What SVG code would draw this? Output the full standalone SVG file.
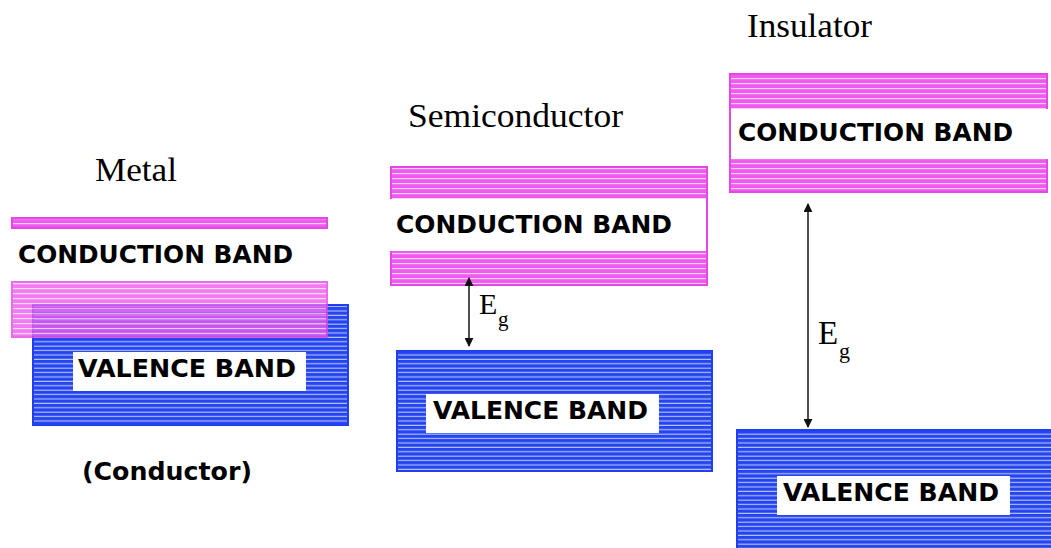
<svg xmlns="http://www.w3.org/2000/svg" width="1051" height="548" viewBox="0 0 1051 548">
<defs>
<pattern id="pinkStripe" patternUnits="userSpaceOnUse" width="8" height="5">
<rect width="8" height="5" fill="#ee5bee"/>
<rect y="3" width="8" height="1.2" fill="#fbd0fb"/>
</pattern>
<pattern id="blueStripe" patternUnits="userSpaceOnUse" width="8" height="4.4">
<rect width="8" height="4.4" fill="#2546ee"/>
<rect y="2.4" width="8" height="1.1" fill="#b8c4ff"/>
</pattern>
<marker id="arr" viewBox="0 0 10 10" refX="9" refY="5" markerWidth="9" markerHeight="9" markerUnits="userSpaceOnUse" orient="auto-start-reverse">
<path d="M0,0 L10,5 L0,10 z" fill="#111"/>
</marker>
<style>
.pink{fill:url(#pinkStripe);stroke:#e448e4;stroke-width:2}
.blue{fill:url(#blueStripe);stroke:#1f3ff0;stroke-width:2}
.band{font-family:"DejaVu Sans",Verdana,sans-serif;font-weight:bold;font-size:24.5px;fill:#000}
.title{font-family:"Liberation Serif","Times New Roman",serif;font-size:34px;fill:#000}
.eg{font-family:"Liberation Serif","Times New Roman",serif;fill:#000}
.conn{stroke:#222;stroke-width:1.6;fill:none}
</style>
</defs>
<rect width="1051" height="548" fill="#fff"/>

<g id="metal">
<text class="title" x="95" y="181" textLength="82" lengthAdjust="spacingAndGlyphs">Metal</text>
<rect class="pink" x="12" y="218" width="315" height="10"/>
<text class="band" x="18" y="263" textLength="275" lengthAdjust="spacingAndGlyphs">CONDUCTION BAND</text>
<rect class="blue" x="33" y="305" width="315" height="120"/>
<rect x="73" y="352" width="233" height="39" fill="#fff"/>
<text class="band" x="78" y="377" textLength="218" lengthAdjust="spacingAndGlyphs">VALENCE BAND</text>
<rect class="pink" x="12" y="282" width="315" height="55" opacity="0.8"/>
<text class="band" x="82" y="480" font-size="23" textLength="170" lengthAdjust="spacingAndGlyphs">(Conductor)</text>
</g>

<g id="semiconductor">
<text class="title" x="408" y="127" textLength="215" lengthAdjust="spacingAndGlyphs">Semiconductor</text>
<rect class="pink" x="391" y="167" width="316" height="118"/>
<rect x="389" y="199" width="317" height="52" fill="#fff"/>
<text class="band" x="396" y="233" textLength="276" lengthAdjust="spacingAndGlyphs">CONDUCTION BAND</text>
<rect class="blue" x="397" y="351" width="315" height="120"/>
<rect x="426" y="394" width="233" height="39" fill="#fff"/>
<text class="band" x="433" y="419" textLength="215" lengthAdjust="spacingAndGlyphs">VALENCE BAND</text>
<text class="eg" x="479" y="314" font-size="30">E<tspan x="498" y="326" font-size="21">g</tspan></text>
</g>

<g id="insulator">
<text class="title" x="747" y="37" textLength="125" lengthAdjust="spacingAndGlyphs">Insulator</text>
<rect class="pink" x="730" y="74" width="317" height="118"/>
<rect x="731" y="109" width="320" height="50" fill="#fff"/>
<text class="band" x="738" y="141" textLength="275" lengthAdjust="spacingAndGlyphs">CONDUCTION BAND</text>
<rect class="blue" x="737" y="430" width="320" height="125"/>
<rect x="777" y="476" width="233" height="39" fill="#fff"/>
<text class="band" x="783" y="501" textLength="216" lengthAdjust="spacingAndGlyphs">VALENCE BAND</text>
<text class="eg" x="818" y="344" font-size="33">E<tspan x="839" y="358" font-size="22">g</tspan></text>
</g>

<g id="connectors">
<line class="conn" x1="469" y1="278" x2="469" y2="346" marker-start="url(#arr)" marker-end="url(#arr)"/>
<line class="conn" x1="808" y1="204" x2="808" y2="427" marker-start="url(#arr)" marker-end="url(#arr)"/>
</g>
</svg>
